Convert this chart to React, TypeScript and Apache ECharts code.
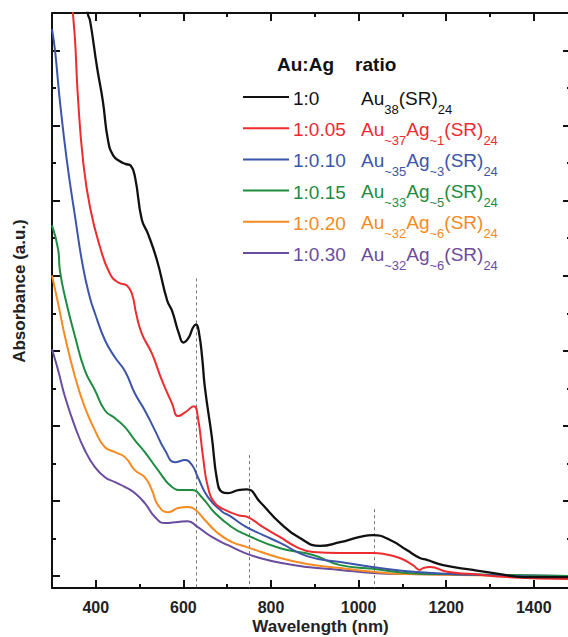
import React, { useEffect, useRef } from "react";
import * as echarts from "echarts";

const FONT = '"Liberation Sans", Arial, Helvetica, sans-serif';

// Axis ticks
const wavelengthMajorTicks = [400, 600, 800, 1000, 1200, 1400];
const wavelengthMinorTicks = [500, 700, 900, 1100, 1300];
const absorbanceMajorTicks = [0, 2, 4, 6, 8, 10, 12, 14];
const absorbanceMinorTicks = [1, 3, 5, 7, 9, 11, 13];

// Dashed reference lines (peak positions of Au38(SR)24)
const peakWavelengths = [630, 750, 1035];
const peakLineTops = [7.93, 3.22, 1.78];

// Legend
const legendTitle = "Au:Ag    ratio";
const ratios = ["1:0", "1:0.05", "1:0.10", "1:0.15", "1:0.20", "1:0.30"];
const formulaParts: string[][][] = [
  [["m", "Au"], ["s", "38"], ["m", "(SR)"], ["s", "24"]],
  [["m", "Au"], ["s", "~37"], ["m", "Ag"], ["s", "~1"], ["m", "(SR)"], ["s", "24"]],
  [["m", "Au"], ["s", "~35"], ["m", "Ag"], ["s", "~3"], ["m", "(SR)"], ["s", "24"]],
  [["m", "Au"], ["s", "~33"], ["m", "Ag"], ["s", "~5"], ["m", "(SR)"], ["s", "24"]],
  [["m", "Au"], ["s", "~32"], ["m", "Ag"], ["s", "~6"], ["m", "(SR)"], ["s", "24"]],
  [["m", "Au"], ["s", "~32"], ["m", "Ag"], ["s", "~6"], ["m", "(SR)"], ["s", "24"]],
];
const colors = ["#111111", "#ee2b2f", "#3d55a8", "#1f8c40", "#f58b22", "#6a4c9e"];

// Spectra: [wavelength (nm), absorbance (a.u.)]
const spec100 = [
  [300, 22], [340, 18.5], [370, 16], [382, 14.97], [387, 14.79], [403, 13.54], [416, 12.66],
  [428, 11.6], [440, 11.2], [455, 11.05], [467, 10.98], [480, 10.93], [490, 10.6], [505, 9.5],
  [519, 9.12], [540, 8.4], [563, 7.34], [574, 7.07], [590, 6.45], [600, 6.22], [612, 6.35],
  [622, 6.62], [629, 6.7], [636, 6.45], [643, 5.8], [649, 5.03], [665, 3.7], [677, 2.55],
  [688, 2.24], [702, 2.21], [725, 2.29], [745, 2.31], [775, 1.97], [821, 1.41], [866, 1.01],
  [912, 0.8], [958, 0.9], [1003, 1.04], [1033, 1.09], [1072, 0.96], [1110, 0.69],
  [1140, 0.48], [1156, 0.43], [1193, 0.29], [1261, 0.16], [1323, 0.05], [1375, -0.03],
  [1485, -0.03],
];
const spec105 = [
  [300, 24], [330, 18], [348, 14.97], [353, 14.2], [359, 12.8], [371, 11.06], [387, 9.81],
  [410, 8.75], [432, 8.06], [451, 7.82], [471, 7.74], [483, 7.5], [492, 7.0], [505, 6.46],
  [528, 5.93], [551, 5.21], [574, 4.6], [588, 4.26], [604, 4.36], [624, 4.52], [633, 4.23],
  [645, 3.16], [656, 2.37], [672, 1.94], [695, 1.76], [725, 1.62], [747, 1.57], [782, 1.3],
  [820, 1.04], [859, 0.77], [896, 0.64], [958, 0.61], [1033, 0.61], [1056, 0.59],
  [1094, 0.48], [1124, 0.29], [1140, 0.16], [1147, 0.21], [1163, 0.24], [1202, 0.11],
  [1261, 0.05], [1339, -0.03], [1485, -0.08],
];
const spec110 = [
  [300, 14.57], [307, 13.99], [318, 12.66], [334, 11.06], [353, 9.55], [371, 8.22],
  [387, 7.4], [398, 7.0], [421, 6.28], [444, 5.82], [467, 5.45], [489, 4.87], [512, 4.41],
  [535, 3.88], [558, 3.35], [581, 3.03], [604, 3.09], [620, 2.95], [633, 2.63], [656, 2.1],
  [688, 1.72], [706, 1.6], [741, 1.32], [782, 1.09], [821, 0.88], [882, 0.53], [958, 0.37],
  [1033, 0.24], [1124, 0.11], [1261, 0.03], [1485, -0.03],
];
const spec115 = [
  [300, 9.34], [314, 8.7], [318, 8.14], [330, 7.42], [353, 6.36], [375, 5.48], [398, 4.95],
  [421, 4.41], [444, 4.2], [467, 3.96], [489, 3.62], [512, 3.3], [542, 2.82], [574, 2.37],
  [597, 2.29], [620, 2.29], [642, 2.1], [672, 1.68], [711, 1.3], [745, 1.09], [821, 0.74],
  [896, 0.56], [958, 0.29], [1033, 0.19], [1110, 0.08], [1186, 0.05], [1485, 0],
];
const spec120 = [
  [300, 8.01], [314, 7.26], [330, 6.36], [353, 5.29], [375, 4.49], [398, 3.88], [421, 3.43],
  [444, 3.3], [467, 3.16], [489, 2.82], [512, 2.63], [528, 2.29], [542, 1.89], [565, 1.7],
  [588, 1.81], [610, 1.84], [626, 1.78], [649, 1.49], [679, 1.14], [711, 0.9], [745, 0.77],
  [821, 0.48], [882, 0.32], [958, 0.21], [1033, 0.11], [1110, 0.05], [1485, 0],
];
const spec130 = [
  [300, 6.04], [314, 5.48], [330, 4.76], [353, 3.96], [375, 3.35], [398, 2.9], [421, 2.63],
  [444, 2.5], [467, 2.37], [489, 2.21], [512, 1.94], [535, 1.57], [558, 1.41], [588, 1.44],
  [610, 1.46], [633, 1.3], [665, 1.04], [702, 0.82], [741, 0.61], [775, 0.48], [821, 0.35],
  [882, 0.24], [958, 0.16], [1033, 0.08], [1110, 0.05], [1485, 0],
];
const spectra = [spec100, spec105, spec110, spec115, spec120, spec130];

const X_MIN = 300;
const X_MAX = 1485;
const Y_MIN = -0.32;
const Y_MAX = 15;

function plainFormula(parts: string[][]) {
  return parts.map((p) => p[1]).join("");
}

export default function App() {
  const ref = useRef<HTMLDivElement>(null);

  useEffect(() => {
    if (!ref.current) return;
    const chart = echarts.init(ref.current, undefined, { renderer: "svg" });

    const axisLineStyle = { color: "#111", width: 2 };
    const makeX = (position: string, ticks: number[], len: number, main: boolean, withLabels: boolean): any => ({
      type: "value",
      position,
      min: X_MIN,
      max: X_MAX,
      interval: 100,
      axisLine: { show: main, onZero: false, lineStyle: axisLineStyle },
      axisTick: { show: true, inside: true, length: len, customValues: ticks, lineStyle: { color: "#111", width: 2 } },
      axisLabel: withLabels
        ? {
            show: true,
            fontSize: 16,
            fontWeight: "bold",
            color: "#222",
            margin: 11,
            fontFamily: FONT,
            showMinLabel: false,
            showMaxLabel: false,
            formatter: (v: number) => (wavelengthMajorTicks.indexOf(v) >= 0 ? String(v) : ""),
          }
        : { show: false },
      splitLine: { show: false },
    });
    const makeY = (position: string, ticks: number[], len: number, main: boolean): any => ({
      type: "value",
      position,
      min: Y_MIN,
      max: Y_MAX,
      axisLine: { show: main, onZero: false, lineStyle: axisLineStyle },
      axisTick: { show: true, inside: true, length: len, customValues: ticks, lineStyle: { color: "#111", width: 2 } },
      axisLabel: { show: false },
      splitLine: { show: false },
    });

    const xMain = makeX("bottom", wavelengthMajorTicks, 8, true, true);
    xMain.name = "Wavelength (nm)";
    xMain.nameLocation = "middle";
    xMain.nameGap = 30;
    xMain.nameMoveOverlap = false;
    xMain.nameTextStyle = { fontSize: 17, fontWeight: "bold", color: "#222", fontFamily: FONT, padding: [0, 0, 0, 18] };

    const yMain = makeY("left", absorbanceMajorTicks, 8, true);
    yMain.name = "Absorbance (a.u.)";
    yMain.nameLocation = "middle";
    yMain.nameGap = 24;
    yMain.nameMoveOverlap = false;
    yMain.nameTextStyle = { fontSize: 17, fontWeight: "bold", color: "#222", fontFamily: FONT, padding: [0, 0, 0, 19] };

    const series: any[] = spectra.map((d, i) => ({
      type: "line",
      name: ratios[i] + " " + plainFormula(formulaParts[i]),
      data: d,
      xAxisIndex: 0,
      yAxisIndex: 0,
      showSymbol: false,
      smooth: 0.5,
      lineStyle: { color: colors[i], width: i === 0 ? 2.3 : 2 },
      z: 10 - i,
    }));

    series.push({
      type: "line",
      name: "peaks",
      data: [],
      xAxisIndex: 0,
      yAxisIndex: 0,
      markLine: {
        silent: true,
        symbol: "none",
        label: { show: false },
        lineStyle: { color: "#777", width: 1, type: [3, 3] },
        data: peakWavelengths.map((w, i) => [
          { coord: [w, peakLineTops[i]] },
          { coord: [w, Y_MIN] },
        ]),
      },
    });

    const graphic: any[] = [
      {
        type: "text",
        x: 277,
        y: 64,
        style: { text: legendTitle, fontSize: 19, fontWeight: "bold", fontFamily: FONT, fill: "#111", textVerticalAlign: "middle" },
      },
    ];
    ratios.forEach((r, i) => {
      const ly = 97 + i * 31.2;
      const c = colors[i];
      graphic.push({ type: "line", shape: { x1: 243, y1: ly, x2: 289, y2: ly }, style: { stroke: c, lineWidth: 2 } });
      graphic.push({
        type: "text",
        x: 293,
        y: ly + 1.5,
        style: { text: r, fontSize: 19, fontFamily: FONT, fill: c, textVerticalAlign: "middle" },
      });
      graphic.push({
        type: "text",
        x: 361,
        y: ly + 1.5 - 10,
        style: {
          text: formulaParts[i].map((p) => `{${p[0]}|${p[1]}}`).join(""),
          fill: c,
          fontFamily: FONT,
          textVerticalAlign: "top",
          rich: {
            m: { fontSize: 19, lineHeight: 20, verticalAlign: "top", fill: c, fontFamily: FONT },
            s: { fontSize: 13, lineHeight: 13, verticalAlign: "top", padding: [14, 0, 0, 0], fill: c, fontFamily: FONT },
          },
        },
      });
    });

    chart.setOption({
      animation: false,
      backgroundColor: "#ffffff",
      grid: { left: 52, top: 13, right: 9, bottom: 49, containLabel: false, outerBoundsMode: "none" },
      xAxis: [
        xMain,
        makeX("bottom", wavelengthMinorTicks, 4, false, false),
        makeX("top", wavelengthMajorTicks, 8, true, false),
        makeX("top", wavelengthMinorTicks, 4, false, false),
      ],
      yAxis: [
        yMain,
        makeY("left", absorbanceMinorTicks, 4, false),
        makeY("right", absorbanceMajorTicks, 8, true),
        makeY("right", absorbanceMinorTicks, 4, false),
      ],
      series,
      graphic,
    });

    return () => chart.dispose();
  }, []);

  return (
    <div style={{ position: "fixed", left: 0, top: 0, width: 568, height: 637, overflow: "hidden", background: "#fff" }}>
      <div ref={ref} style={{ width: 580, height: 637 }} />
    </div>
  );
}
